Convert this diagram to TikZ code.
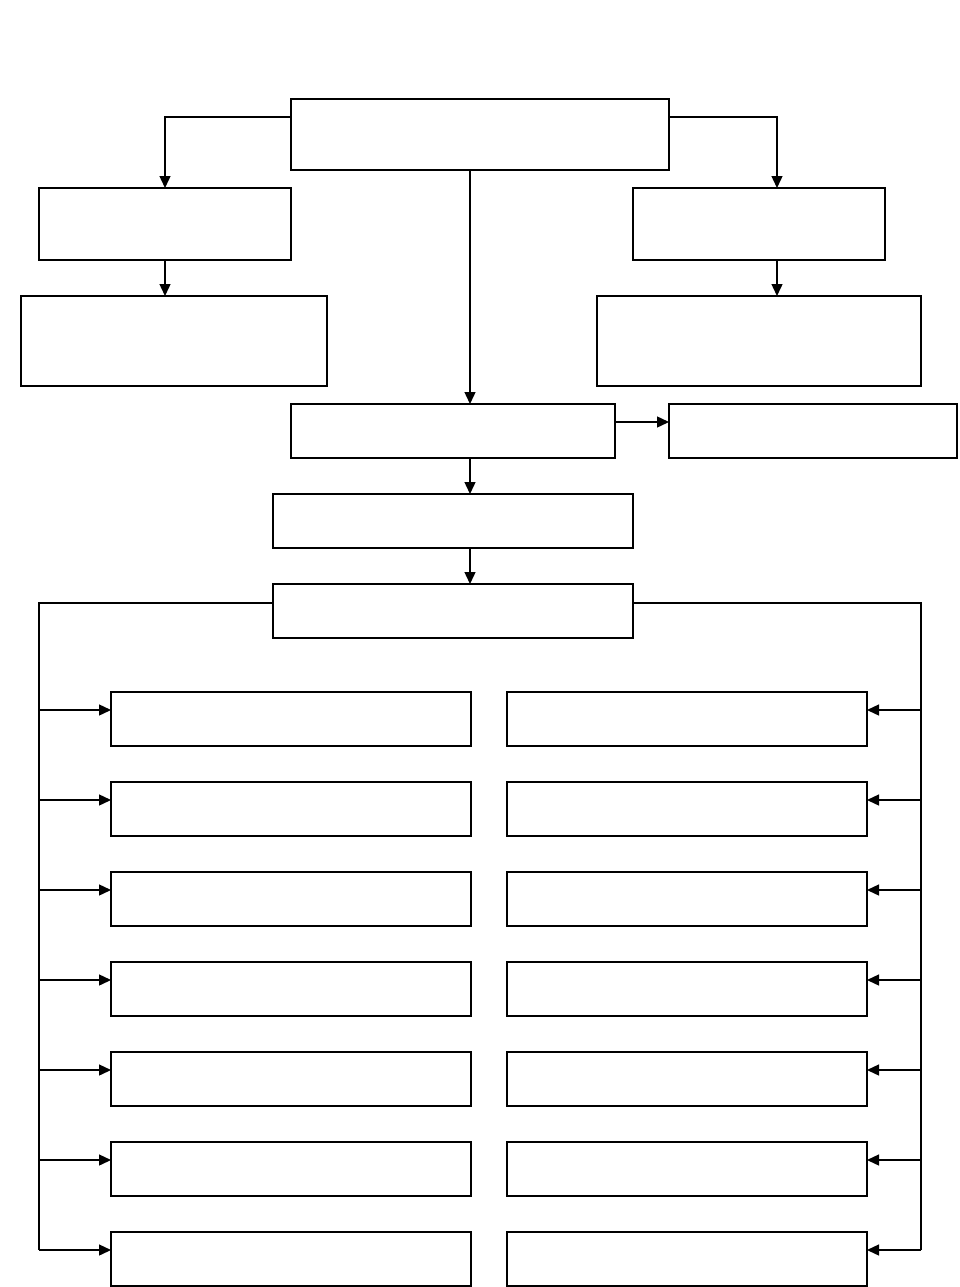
\documentclass[tikz,border=0pt]{standalone}
\usetikzlibrary{arrows.meta,calc}
\begin{document}
\begin{tikzpicture}[x=1pt,y=-1pt,
  box/.style={draw,line width=1.6pt,inner sep=0pt,outer sep=0pt,fill=white},
  ln/.style={line width=1.4pt},
  arr/.style={line width=1.4pt,-{Triangle[length=12pt 0 0,width=11pt 0 0]}}]
\useasboundingbox (0,0) rectangle (959,1287);
% boxes: centre, width, height
\node[box,minimum width=378pt,minimum height=71pt] (top) at (480,134.5) {};
\node[box,minimum width=252pt,minimum height=72pt] (l1) at (165,224) {};
\node[box,minimum width=306pt,minimum height=90pt] (l2) at (174,341) {};
\node[box,minimum width=252pt,minimum height=72pt] (r1) at (759,224) {};
\node[box,minimum width=324pt,minimum height=90pt] (r2) at (759,341) {};
\node[box,minimum width=324pt,minimum height=54pt] (m1) at (453,431) {};
\node[box,minimum width=288pt,minimum height=54pt] (side) at (813,431) {};
\node[box,minimum width=360pt,minimum height=54pt] (m2) at (453,521) {};
\node[box,minimum width=360pt,minimum height=54pt] (m3) at (453,611) {};
\foreach \i/\y in {1/719,2/809,3/899,4/989,5/1079,6/1169,7/1259}{
  \node[box,minimum width=360pt,minimum height=54pt] (a\i) at (291,\y) {};
  \node[box,minimum width=360pt,minimum height=54pt] (b\i) at (687,\y) {};
}
% guide coordinates
\coordinate (lc) at (165,0);
\coordinate (vc) at (470,0);
\coordinate (rc) at (777,0);
\coordinate (busl) at (39,0);
\coordinate (busr) at (921,0);
% top connectors
\draw[arr] ($(top.north west)+(0,18)$) -| (l1.north -| lc);
\draw[arr] ($(top.north east)+(0,18)$) -| (r1.north -| rc);
\draw[arr] (top.south -| vc) -- (m1.north -| vc);
\draw[arr] (l1.south -| lc) -- (l2.north -| lc);
\draw[arr] (r1.south -| rc) -- (r2.north -| rc);
\draw[arr] ($(m1.north east)+(0,18)$) -- ($(side.north west)+(0,18)$);
\draw[arr] (m1.south -| vc) -- (m2.north -| vc);
\draw[arr] (m2.south -| vc) -- (m3.north -| vc);
% buses
\draw[ln] ($(m3.north west)+(0,19)$) -| ($(a7.north west -| busl)+(0,18)$);
\draw[ln] ($(m3.north east)+(0,19)$) -| ($(b7.north east -| busr)+(0,18)$);
\foreach \i in {1,...,7}{
  \draw[arr] ($(a\i.north west -| busl)+(0,18)$) -- ($(a\i.north west)+(0,18)$);
  \draw[arr] ($(b\i.north east -| busr)+(0,18)$) -- ($(b\i.north east)+(0,18)$);
}
\end{tikzpicture}
\end{document}
